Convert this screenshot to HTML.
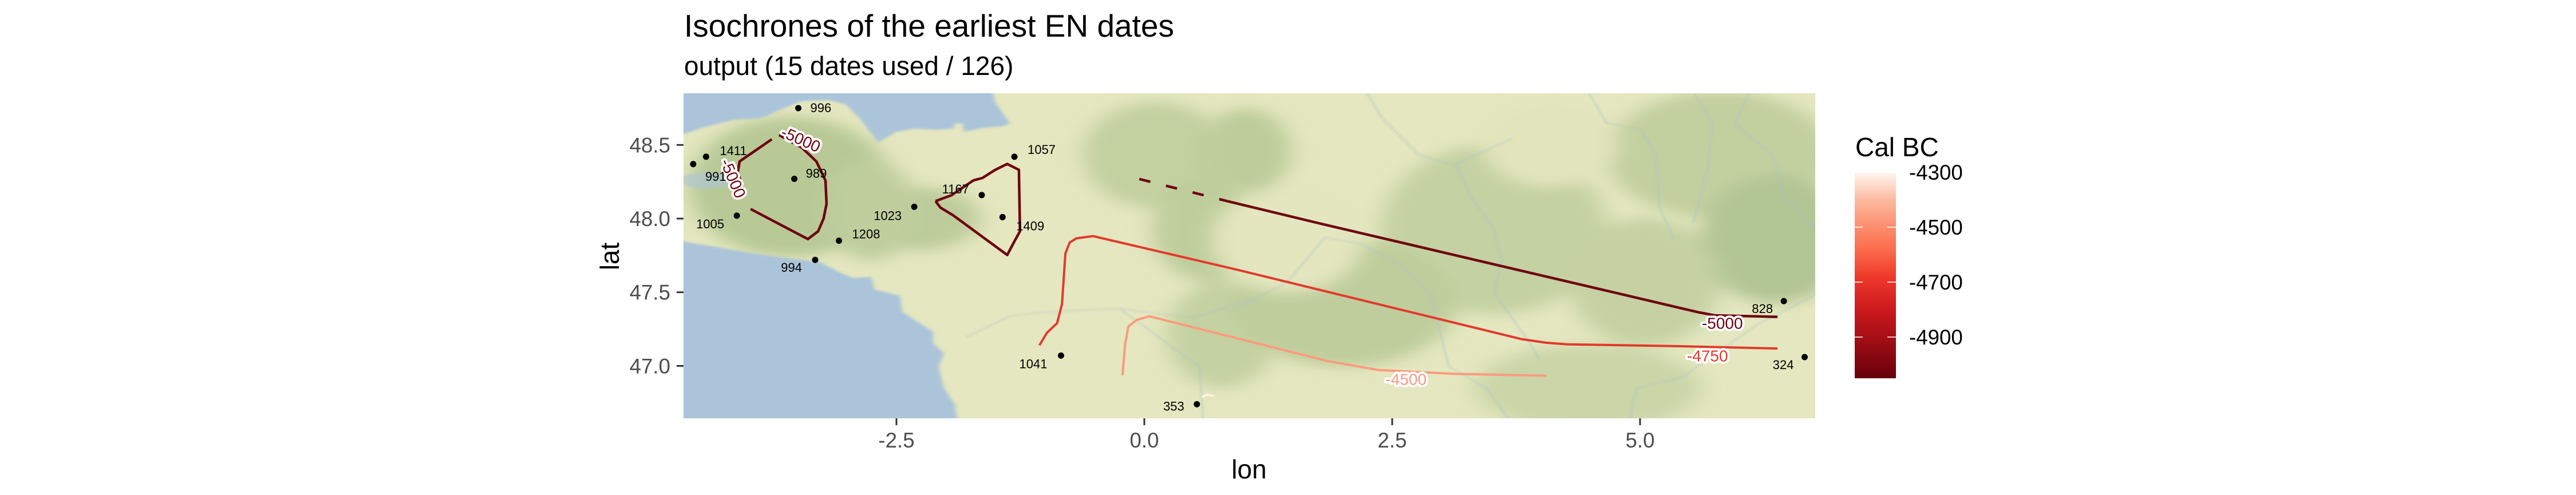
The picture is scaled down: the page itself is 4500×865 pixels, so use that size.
<!DOCTYPE html>
<html><head><meta charset="utf-8">
<style>
html,body{margin:0;padding:0;background:#fff;}
svg{display:block;font-family:"Liberation Sans",sans-serif;}
</style></head>
<body>
<svg id="chart" width="4500" height="865" viewBox="0 0 4500 865" xmlns="http://www.w3.org/2000/svg">
<defs>
  <clipPath id="panelClip"><rect x="1194" y="163" width="1977" height="568"/></clipPath>
  <filter id="blur30" x="-50%" y="-50%" width="200%" height="200%"><feGaussianBlur stdDeviation="30"/></filter>
  <filter id="blur6" x="-20%" y="-20%" width="140%" height="140%"><feGaussianBlur stdDeviation="5"/></filter>
  <filter id="blur2"><feGaussianBlur stdDeviation="1.5"/></filter>
  <linearGradient id="legendGrad" x1="0" y1="1" x2="0" y2="0">
    <stop offset="0" stop-color="#67000D"/>
    <stop offset="0.2" stop-color="#A50F15"/>
    <stop offset="0.33" stop-color="#CB181D"/>
    <stop offset="0.5" stop-color="#EF3B2C"/>
    <stop offset="0.62" stop-color="#FB6A4A"/>
    <stop offset="0.75" stop-color="#FC9272"/>
    <stop offset="0.87" stop-color="#FCBBA1"/>
    <stop offset="1" stop-color="#FFF5F0"/>
  </linearGradient>
</defs>

<text x="1195" y="64" font-size="55" fill="#000">Isochrones of the earliest EN dates</text>
<text x="1195" y="131" font-size="46" fill="#000">output (15 dates used / 126)</text>

<g clip-path="url(#panelClip)">
  <rect x="1194" y="163" width="1977" height="568" fill="#E4E7BF"/>
  <g transform="translate(1190,160) scale(0.6378,0.37)" filter="url(#blur30)">
    <ellipse cx="300" cy="450" rx="280" ry="330" fill="#B8C996"/>
    <ellipse cx="650" cy="600" rx="170" ry="150" fill="#BDCC9B"/>
    <ellipse cx="520" cy="560" rx="120" ry="240" fill="#C0CE9E"/>
    <ellipse cx="1300" cy="300" rx="200" ry="250" fill="#C3D0A0"/>
    <ellipse cx="1450" cy="650" rx="160" ry="250" fill="#BFCD9C"/>
    <ellipse cx="1480" cy="1150" rx="150" ry="250" fill="#C4D1A2"/>
  </g>
  <g transform="translate(2150,160) scale(0.657,0.37)" filter="url(#blur30)">
    <ellipse cx="40" cy="280" rx="120" ry="200" fill="#BDCC9A"/>
    <ellipse cx="700" cy="650" rx="300" ry="400" fill="#C4D1A2"/>
    <ellipse cx="300" cy="1000" rx="300" ry="300" fill="#BFCD9C"/>
    <ellipse cx="1300" cy="300" rx="300" ry="300" fill="#C2CF9F"/>
    <ellipse cx="1450" cy="700" rx="200" ry="300" fill="#B2C594"/>
    <ellipse cx="1100" cy="900" rx="200" ry="300" fill="#C5D1A3"/>
    <ellipse cx="950" cy="1400" rx="300" ry="200" fill="#CAD5A8"/>
    <ellipse cx="850" cy="250" rx="180" ry="200" fill="#E2E5BC"/>
    <ellipse cx="150" cy="700" rx="200" ry="250" fill="#E3E6BE"/>
  </g>
  <g fill="none" stroke="#AFC3C8" stroke-width="5" opacity="0.5" filter="url(#blur2)">
    <path transform="translate(2150,160) scale(0.657,0.37)" d="M360,0 L400,120 L500,300 L600,350 L640,500 L700,650 L720,800 L700,950 L800,1200 L820,1270 M750,220 L590,350 M950,0 L1000,150 L1090,180 L1130,300 L1140,550 L1180,700 M1230,0 L1280,150 L1270,350 L1230,620 M1380,0 L1340,150 L1440,300 L1470,500 L1554,650 M0,1040 L150,900 L250,690 L350,720 L450,820 L530,950 L580,1300 L680,1400 L740,1550 M1554,960 L1400,1100 L1200,1350 L1080,1400 L1060,1550"/>
    <path transform="translate(1190,160) scale(0.6378,0.37)" d="M780,1160 L900,1060 L1000,1040 L1200,1025 L1300,1150 L1420,1300 L1430,1568 M1200,1025 L1400,1070 L1568,980"/>
  </g>
  <g transform="translate(1190,160) scale(0.6378,0.37)" fill="#ABC4D9" filter="url(#blur6)">
    <polygon points="-20,-20 850,-20 860,50 880,100 900,150 880,165 830,170 775,190 770,150 750,150 745,175 700,180 640,175 590,190 540,240 490,130 450,60 400,40 330,45 280,80 220,125 140,135 60,170 -20,215"/>
    <polygon points="-20,700 100,735 200,765 300,790 380,805 430,850 470,880 520,875 530,935 600,965 605,1040 650,1090 690,1135 690,1190 720,1235 705,1300 720,1400 750,1480 760,1600 -20,1600"/>
    <ellipse cx="70" cy="420" rx="70" ry="40" opacity="0.6"/>
  </g>
  <g id="contours"></g>
  <g id="points"></g>
</g>

<g id="axes"></g>

<g>
  <text x="3241" y="273" font-size="46" fill="#000">Cal BC</text>
  <rect x="3240" y="302" width="72" height="359" fill="url(#legendGrad)"/>
  <g id="legendTicks"></g>
</g>

<script>
const siteIds  = ["996","1411","991","989","1005","1208","994","1023","1167","1409","1057","1041","353","828","324"];
const siteLon  = [-3.49,-4.42,-4.55,-3.53,-4.11,-3.08,-3.32,-2.32,-1.64,-1.43,-1.31,-0.84,0.53,6.45,6.66];
const siteLat  = [48.75,48.42,48.37,48.27,48.02,47.85,47.72,48.08,48.16,48.01,48.42,47.07,46.74,47.44,47.06];

const c5000aLon = [-4.034,-4.100,-4.082,-3.757];
const c5000aLat = [48.176,48.316,48.388,48.539];
const c5000bLon = [-3.684,-3.455,-3.308,-3.216,-3.205,-3.235,-3.290,-3.393,-3.971];
const c5000bLat = [48.568,48.482,48.388,48.259,48.101,48.000,47.914,47.861,48.065];
const c5000cLon = [-2.105,-2.057,-1.928,-1.383,-1.302,-1.254,-1.265,-1.383,-1.504,-1.633,-1.725,-1.946,-2.105];
const c5000cLat = [48.119,48.075,48.022,47.753,47.856,47.914,48.331,48.371,48.331,48.276,48.259,48.158,48.119];
const c5000dLon = [-0.051,0.839];
const c5000dLat = [48.269,48.118];
const c5000eLon = [0.839,1.770,5.582,5.751,6.386];
const c5000eLat = [48.118,47.967,47.365,47.343,47.333];
const c4750Lon = [-1.058,-0.982,-0.880,-0.830,-0.796,-0.753,-0.686,-0.517,0.923,3.803,4.057,4.269,5.328,6.386];
const c4750Lat = [47.140,47.225,47.290,47.419,47.763,47.838,47.866,47.881,47.655,47.182,47.157,47.146,47.135,47.118];
const c4500Lon = [-0.220,-0.195,-0.161,-0.076,0.051,1.855,2.363,3.125,4.057];
const c4500Lat = [46.935,47.140,47.268,47.312,47.337,47.032,46.972,46.946,46.933];
const c4300Lon = [0.58,0.64,0.70];
const c4300Lat = [46.79,46.805,46.795];

const contourLabels = ["-5000","-5000","-5000","-4750","-4500"];
const contourLabelLon = [-3.47,-4.16,5.83,5.68,2.64];
const contourLabelLat = [48.53,48.27,47.28,47.06,46.90];

const xTicks = [-2.5,0.0,2.5,5.0];
const xTickLabels = ["-2.5","0.0","2.5","5.0"];
const yTicks = [47.0,47.5,48.0,48.5];
const yTickLabels = ["47.0","47.5","48.0","48.5"];
const legendVals = [-4300,-4500,-4700,-4900];
const legendLabels = ["-4300","-4500","-4700","-4900"];

const x = lon => 1999 + 173.2*lon;
const y = lat => 382 - (lat-48)*257.4;
const legendY = v => 301 + (-4300 - v)/200*96;
const NS = "http://www.w3.org/2000/svg";
function mk(tag, attrs, parent){ const e=document.createElementNS(NS,tag); for(const k in attrs) e.setAttribute(k,attrs[k]); parent.appendChild(e); return e; }
function pathD(lons,lats){ return lons.map((v,i)=>(i?"L":"M")+x(v).toFixed(1)+","+y(lats[i]).toFixed(1)).join(" "); }

const cg = document.getElementById("contours");
const lines = [
  [c5000aLon,c5000aLat,"#6E0210",4.5,null,"contour-5000-west-a"],
  [c5000bLon,c5000bLat,"#6E0210",4.5,null,"contour-5000-west-b"],
  [c5000cLon,c5000cLat,"#6E0210",4.5,null,"contour-5000-central"],
  [c5000dLon,c5000dLat,"#6E0210",4.5,"20 28","contour-5000-east-dashed"],
  [c5000eLon,c5000eLat,"#6E0210",4.5,null,"contour-5000-east"],
  [c4750Lon,c4750Lat,"#E23A2C",4,null,"contour-4750"],
  [c4500Lon,c4500Lat,"#FB9A7E",4,null,"contour-4500"],
  [c4300Lon,c4300Lat,"#FFF1EA",3.5,null,"contour-4300"]
];
lines.forEach(l=>{
  const p = mk("path",{d:pathD(l[0],l[1]),fill:"none",stroke:l[2],"stroke-width":l[3],"stroke-linejoin":"round"},cg);
  if(l[4]) p.setAttribute("stroke-dasharray",l[4]);
  
  
});
const labColors = ["#6E0210","#6E0210","#6E0210","#E23A2C","#FB9A7E"];
const labRot = [24,67,0,0,0];
contourLabels.forEach((t,i)=>{
  const tx = mk("text",{x:x(contourLabelLon[i]),y:y(contourLabelLat[i]),"font-size":28,"text-anchor":"middle","dominant-baseline":"middle",fill:labColors[i],stroke:"#fff","stroke-width":8,"paint-order":"stroke","stroke-linejoin":"round",transform:`rotate(${labRot[i]} ${x(contourLabelLon[i])} ${y(contourLabelLat[i])})`},cg);
  tx.textContent = t;
  
  
});

const pg = document.getElementById("points");
const labelDx = [21,24,21,20,-22,23,-23,-22,-22,24,23,-24,-22,-19,-19];
const labelDy = [7,-3,29,-2,22,-4,21,23,-3,23,-5,22,11,21,21];
siteIds.forEach((id,i)=>{
  const cx=x(siteLon[i]), cy=y(siteLat[i]);
  const c = mk("circle",{cx:cx,cy:cy,r:5.5,fill:"#000"},pg);
  
  
  const t = mk("text",{x:cx+labelDx[i],y:cy+labelDy[i],"font-size":22,fill:"#000","text-anchor":labelDx[i]<0?"end":"start"},pg);
  t.textContent=id;
  
  
});

const ag = document.getElementById("axes");
xTicks.forEach((v,i)=>{
  const l = mk("line",{x1:x(v),x2:x(v),y1:731,y2:743,stroke:"#333","stroke-width":3},ag);
  
  
  const t = mk("text",{x:x(v),y:782,"font-size":36.7,fill:"#4D4D4D","text-anchor":"middle"},ag);
  t.textContent = xTickLabels[i];
  
  
});
yTicks.forEach((v,i)=>{
  const l = mk("line",{x1:1182,x2:1194,y1:y(v),y2:y(v),stroke:"#333","stroke-width":3},ag);
  
  
  const t = mk("text",{x:1171,y:y(v)+13,"font-size":36.7,fill:"#4D4D4D","text-anchor":"end"},ag);
  t.textContent = yTickLabels[i];
  
  
});
const xt = mk("text",{x:2182,y:836,"font-size":46,fill:"#000","text-anchor":"middle"},ag);
xt.textContent="lon";


const yt = mk("text",{x:1081,y:448,"font-size":46,fill:"#000","text-anchor":"middle",transform:"rotate(-90 1081 448)"},ag);
yt.textContent="lat";



const lg = document.getElementById("legendTicks");
legendVals.forEach((v,i)=>{
  const yy = legendY(v);
  if(i>0){
    const a = mk("line",{x1:3240,x2:3254,y1:yy,y2:yy,stroke:"#fff","stroke-width":1.5},lg);
    
    
    const b = mk("line",{x1:3297,x2:3312,y1:yy,y2:yy,stroke:"#fff","stroke-width":1.5},lg);
    
    
  }
  const t = mk("text",{x:3335,y:yy+13,"font-size":36.7,fill:"#000"},lg);
  t.textContent = legendLabels[i];
  
  
});
</script>
</svg>
</body></html>
